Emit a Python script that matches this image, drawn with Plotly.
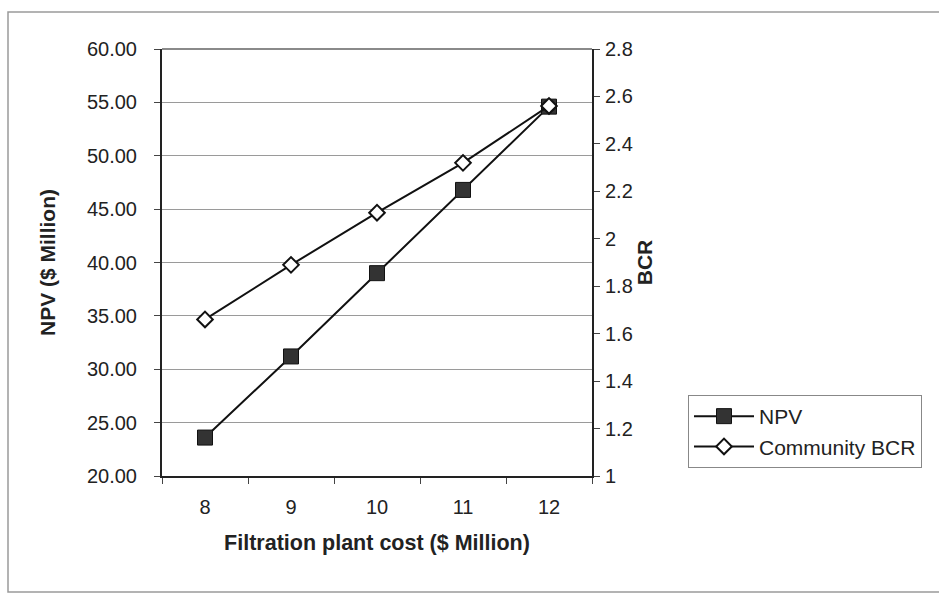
import plotly.graph_objects as go

# Filtration plant cost scenarios ($ Million)
plant_cost = [8, 9, 10, 11, 12]
# Net present value ($ Million)
npv = [23.6, 31.2, 39.0, 46.8, 54.6]
# Community benefit-cost ratio
community_bcr = [1.66, 1.89, 2.11, 2.32, 2.56]

npv_ticks = [20, 25, 30, 35, 40, 45, 50, 55, 60]
bcr_ticks = [1, 1.2, 1.4, 1.6, 1.8, 2, 2.2, 2.4, 2.6, 2.8]
bcr_tick_text = ["1", "1.2", "1.4", "1.6", "1.8", "2", "2.2", "2.4", "2.6", "2.8"]
category_edges = [7.5, 8.5, 9.5, 10.5, 11.5, 12.5]

FONT = "Arial, Liberation Sans, sans-serif"

fig = go.Figure()
fig.add_trace(go.Scatter(
    x=plant_cost, y=npv, name="NPV", mode="lines+markers",
    line=dict(color="#111111", width=2),
    marker=dict(symbol="square", size=15, color="#333333",
                line=dict(color="#111111", width=1)),
    yaxis="y",
))
fig.add_trace(go.Scatter(
    x=plant_cost, y=community_bcr, name="Community BCR", mode="lines+markers",
    line=dict(color="#111111", width=2),
    marker=dict(symbol="diamond", size=12, color="white",
                line=dict(color="#111111", width=2)),
    yaxis="y2",
))

pw = 939 - 162 - 347
ph = 602 - 49 - 126

fig.update_layout(
    width=939, height=602,
    margin=dict(l=162, r=347, t=49, b=126),
    paper_bgcolor="white", plot_bgcolor="white",
    font=dict(family=FONT, size=20, color="#222222"),
    showlegend=True,
    legend=dict(
        x=(688 - 162) / pw, y=1 - (395 - 49) / ph,
        xanchor="left", yanchor="top",
        font=dict(size=21, color="#222222"),
        bordercolor="#888888", borderwidth=1, bgcolor="white",
        tracegroupgap=8, itemwidth=60,
    ),
    xaxis=dict(
        range=[7.5, 12.5], tickvals=plant_cost,
        ticktext=[str(v) for v in plant_cost],
        ticks="", showgrid=False, zeroline=False,
        showline=True, linecolor="#222222", linewidth=2,
        ticklabelstandoff=12,
        minor=dict(tickvals=category_edges, ticks="outside", ticklen=6,
                   tickcolor="#444444", showgrid=False),
        title=dict(text="<b>Filtration plant cost ($ Million)</b>",
                   font=dict(size=21.5), standoff=18),
    ),
    yaxis=dict(
        range=[20, 60], tickvals=npv_ticks, tickformat=".2f",
        ticks="outside", ticklen=6, tickcolor="#444444",
        showgrid=True, gridcolor="#9a9a9a", gridwidth=1, zeroline=False,
        showline=True, linecolor="#222222", linewidth=2,
        ticklabelstandoff=13,
        title=dict(text="<b>NPV ($ Million)</b>", font=dict(size=21), standoff=26),
    ),
    yaxis2=dict(
        range=[1, 2.8], tickvals=bcr_ticks, ticktext=bcr_tick_text,
        overlaying="y", side="right",
        ticks="outside", ticklen=6, tickcolor="#444444",
        showgrid=False, zeroline=False,
        showline=True, linecolor="#222222", linewidth=2,
        ticklabelstandoff=1,
        title=dict(text="<b>BCR</b>", font=dict(size=21), standoff=2),
    ),
)

# top edge of the plot area and the outer chart border
fig.add_shape(type="line", xref="paper", yref="paper", x0=0, x1=1, y0=1, y1=1,
              line=dict(color="#8a8a8a", width=2))
fig.add_shape(type="rect", xref="paper", yref="paper",
              x0=(8 - 162) / pw, x1=(945 - 162) / pw,
              y0=1 - (592 - 49) / ph, y1=1 + (49 - 12) / ph,
              line=dict(color="#9a9a9a", width=1.5), layer="below")

fig.write_html("out.html")
